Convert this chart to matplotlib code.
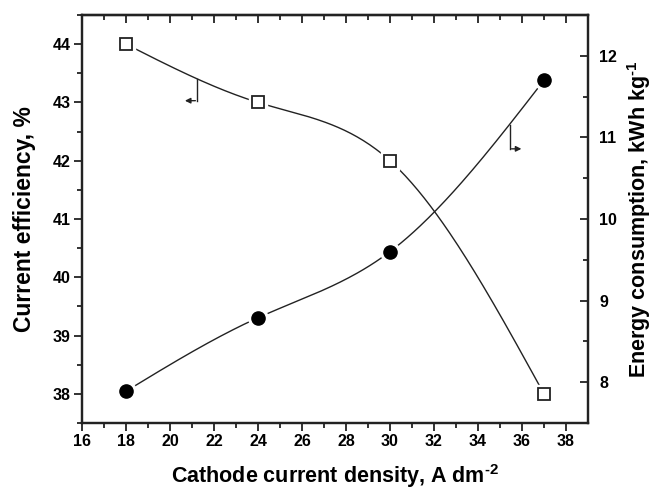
import numpy as np
import matplotlib
matplotlib.use("Agg")
import matplotlib.pyplot as plt

plt.rcParams['font.family'] = ['Liberation Sans', 'DejaVu Sans']
plt.rcParams['font.weight'] = 'bold'
plt.rcParams['mathtext.fontset'] = 'custom'
plt.rcParams['mathtext.bf'] = 'Liberation Sans:bold'
plt.rcParams['mathtext.rm'] = 'Liberation Sans:bold'

# data
density = [18, 24, 30, 37]
efficiency = [44.0, 43.0, 42.0, 38.0]
energy = [7.89, 8.79, 9.60, 11.70]

x_ticks = [16, 18, 20, 22, 24, 26, 28, 30, 32, 34, 36, 38]
left_ticks = [38, 39, 40, 41, 42, 43, 44]
right_ticks = [8, 9, 10, 11, 12]

INK = '#222222'


def spline(xs, ys, n=200):
    # natural cubic spline, like the Origin "spline" connect
    xs = np.asarray(xs, float)
    ys = np.asarray(ys, float)
    k = len(xs)
    h = np.diff(xs)
    A = np.zeros((k, k))
    r = np.zeros(k)
    A[0, 0] = A[-1, -1] = 1
    for i in range(1, k - 1):
        A[i, i - 1] = h[i - 1]
        A[i, i] = 2 * (h[i - 1] + h[i])
        A[i, i + 1] = h[i]
        r[i] = 6 * ((ys[i + 1] - ys[i]) / h[i] - (ys[i] - ys[i - 1]) / h[i - 1])
    m = np.linalg.solve(A, r)
    xx = np.linspace(xs[0], xs[-1], n)
    yy = np.empty_like(xx)
    for j, x in enumerate(xx):
        i = min(np.searchsorted(xs, x, side='right') - 1, k - 2)
        t = x - xs[i]
        u = xs[i + 1] - x
        yy[j] = (m[i] * u ** 3 / (6 * h[i]) + m[i + 1] * t ** 3 / (6 * h[i])
                 + (ys[i] / h[i] - m[i] * h[i] / 6) * u
                 + (ys[i + 1] / h[i] - m[i + 1] * h[i] / 6) * t)
    return xx, yy


fig = plt.figure(figsize=(6.52, 4.92), dpi=100)
ax = fig.add_axes([0.1258, 0.1402, 0.776, 0.8293])
ax2 = ax.twinx()

# current efficiency (left axis, open squares)
sx, sy = spline(density, efficiency)
ax.plot(sx, sy, color=INK, lw=1.0, zorder=2)
ax.plot(density, efficiency, ls='none', marker='s', ms=13, mfc='white', mec='white', zorder=3)
ax.plot(density, efficiency, ls='none', marker='s', ms=8.5, mfc='white', mec=INK, mew=1.3, zorder=4)

# energy consumption (right axis, filled circles)
cx, cy = spline(density, energy)
ax2.plot(cx, cy, color=INK, lw=1.0, zorder=2)
ax2.plot(density, energy, ls='none', marker='o', ms=14, mfc='white', mec='white', zorder=3)
ax2.plot(density, energy, ls='none', marker='o', ms=9.5, mfc='black', mec='black', zorder=4)

# little arrows telling which axis each curve belongs to
ax.plot([21.23, 21.23], [43.40, 43.03], color=INK, lw=1.0)
ax.annotate('', xy=(20.55, 43.03), xytext=(21.28, 43.03),
            arrowprops=dict(arrowstyle='-|>', color=INK, lw=1.0, mutation_scale=8))
ax2.plot([35.45, 35.45], [11.15, 10.86], color=INK, lw=1.0)
ax2.annotate('', xy=(36.1, 10.86), xytext=(35.40, 10.86),
             arrowprops=dict(arrowstyle='-|>', color=INK, lw=1.0, mutation_scale=8))

ax.set_xlim(16, 39)
ax.set_ylim(37.5, 44.5)
ax2.set_ylim(7.5, 12.5)

ax.set_xticks(x_ticks)
ax.set_xticks(np.arange(17, 39, 2), minor=True)
ax.set_yticks(left_ticks)
ax.set_yticks(np.arange(37.5, 44.6, 1.0), minor=True)
ax2.set_yticks(right_ticks)
ax2.set_yticks(np.arange(7.5, 12.6, 1.0), minor=True)

ax.tick_params(which='both', direction='out', colors=INK, width=1.3,
               labelsize=11.5, right=False, top=False, pad=2)
ax.tick_params(which='major', length=6)
ax.tick_params(which='minor', length=3.5)
ax2.tick_params(which='both', direction='in', colors=INK, width=1.3,
                labelsize=11.5, pad=8)
ax2.tick_params(which='major', length=6)
ax2.tick_params(which='minor', length=3.5)
for lab in ax.get_xticklabels() + ax.get_yticklabels() + ax2.get_yticklabels():
    lab.set_fontweight('bold')
    lab.set_color('black')

top = ax.secondary_xaxis('top')
top.set_xticks(x_ticks)
top.set_xticks(np.arange(17, 39, 2), minor=True)
top.tick_params(which='both', direction='in', colors=INK, width=1.3, labeltop=False)
top.tick_params(which='major', length=6)
top.tick_params(which='minor', length=3.5)
top.spines['top'].set_linewidth(1.6)
top.spines['top'].set_color(INK)

for a in (ax, ax2):
    for s in a.spines.values():
        s.set_linewidth(1.6)
        s.set_color(INK)

ax.set_xlabel('Cathode current density, A dm$^{\\mathbf{\\text{-}2}}$', fontsize=15.5,
              fontweight='bold', labelpad=9)
ax.set_ylabel('Current efficiency, %', fontsize=16.5, fontweight='bold', labelpad=12)
ax2.set_ylabel('Energy consumption, kWh kg$^{\\mathbf{\\text{-}1}}$', fontsize=15.5,
               fontweight='bold', labelpad=6)

fig.savefig('out.png', dpi=100)
